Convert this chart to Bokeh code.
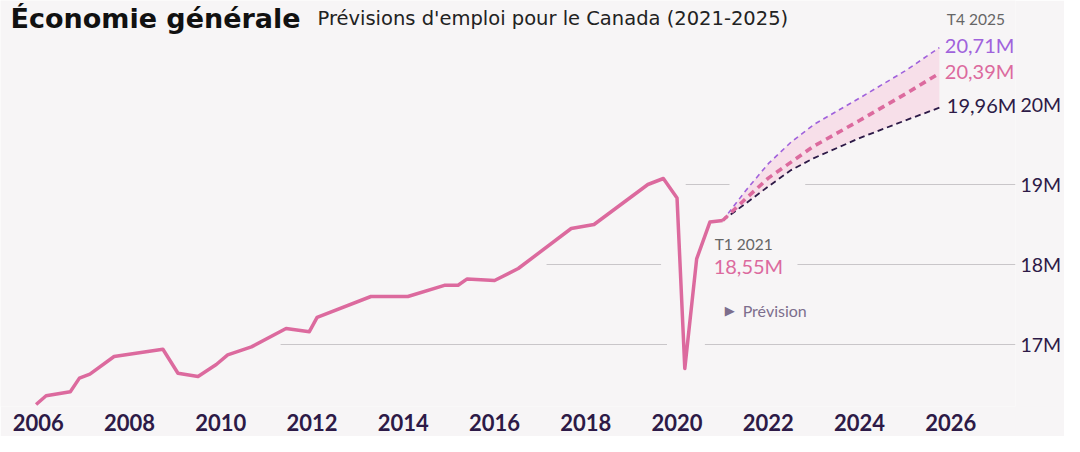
import numpy as np
from bokeh.plotting import figure
from bokeh.models import FixedTicker, Label, Range1d
from bokeh.embed import file_html
from bokeh.resources import INLINE

# ---------------- data ----------------
hist_years = [2005.95, 2006.17, 2006.70, 2006.90, 2007.13, 2007.66, 2008.73, 2009.06,
              2009.50, 2009.90, 2010.15, 2010.67, 2011.43, 2011.94, 2012.11, 2013.29,
              2014.10, 2014.90, 2015.20, 2015.40, 2016.00, 2016.52, 2017.68, 2018.18,
              2019.36, 2019.70, 2020.00, 2020.17, 2020.43, 2020.72, 2021.00]
hist_values = [16.25, 16.36, 16.41, 16.58, 16.63, 16.85, 16.94, 16.64,
               16.60, 16.75, 16.87, 16.97, 17.20, 17.16, 17.34, 17.60,
               17.60, 17.74, 17.74, 17.82, 17.80, 17.95, 18.45, 18.50,
               19.00, 19.075, 18.83, 16.70, 18.07, 18.53, 18.55]

fc_years = [2021.0, 2021.5, 2022.0, 2022.5, 2023.0, 2024.0, 2025.0, 2025.75]
fc_high = [18.55, 18.92, 19.26, 19.53, 19.75, 20.08, 20.42, 20.71]
fc_mid = [18.55, 18.82, 19.08, 19.28, 19.48, 19.80, 20.13, 20.39]
fc_low = [18.55, 18.76, 18.975, 19.18, 19.33, 19.58, 19.80, 19.96]

x_ticks = [2006, 2008, 2010, 2012, 2014, 2016, 2018, 2020, 2022, 2024, 2026]
x_tick_labels = ["2006", "2008", "2010", "2012", "2014", "2016", "2018", "2020", "2022", "2024", "2026"]
y_ticks = [17, 18, 19, 20]
y_tick_labels = ["17M", "18M", "19M", "20M"]

title_text = "Économie générale"
subtitle_text = "Prévisions d'emploi pour le Canada (2021-2025)"
start_period = "T1 2021"
start_value = "18,55M"
end_period = "T4 2025"
end_high = "20,71M"
end_mid = "20,39M"
end_low = "19,96M"
forecast_text = "Prévision"

# ---------------- style ----------------
BG = "#f7f5f6"
PINK = "#dc6a9e"
PURPLE = "#a062dc"
DARK = "#2d1a47"
FILL = "#f7dfe9"
GRID = "#c9c6c9"
GREY = "#666666"

X0, X1 = 2005.170, 2027.419
Y0, Y1 = 16.225, 21.3

p = figure(width=1064, height=436, x_range=Range1d(X0, X1), y_range=Range1d(Y0, Y1),
           output_backend="svg", toolbar_location=None, y_axis_location="right",
           min_border_left=0, min_border_right=45, min_border_top=0, min_border_bottom=30,
           background_fill_color=BG, border_fill_color=BG, outline_line_color=None)
p.grid.visible = False

# axes
p.xaxis.ticker = FixedTicker(ticks=x_ticks)
p.xaxis.major_label_overrides = dict(zip(x_ticks, x_tick_labels))
p.yaxis.ticker = FixedTicker(ticks=y_ticks)
p.yaxis.major_label_overrides = dict(zip(y_ticks, y_tick_labels))
for ax in (p.xaxis, p.yaxis):
    ax.axis_line_color = None
    ax.major_tick_line_color = None
    ax.minor_tick_line_color = None
    ax.major_tick_out = 0
    ax.major_tick_in = 0
    ax.major_label_text_color = DARK
    ax.major_label_text_font = "Lato"
p.xaxis.major_label_text_font_style = "bold"
p.xaxis.major_label_text_font_size = "22px"
p.xaxis.major_label_text_line_height = 1.0
p.xaxis.major_label_standoff = 7
p.yaxis.major_label_text_font_size = "19.5px"
p.yaxis.major_label_standoff = 5

# gridline segments (broken around the line and labels)
grid_y = [17, 17, 18, 18, 19, 19]
grid_x0 = [2011.31, 2020.61, 2017.14, 2022.64, 2020.19, 2022.81]
grid_x1 = [2019.78, X1, 2019.65, X1, 2021.15, X1]
p.segment(x0=grid_x0, y0=grid_y, x1=grid_x1, y1=grid_y, line_color=GRID, line_width=1)

# forecast band and lines
p.varea(x=fc_years, y1=fc_low, y2=fc_high, fill_color=FILL)
p.line(fc_years, fc_low, line_color=DARK, line_width=1.8, line_dash="6 4")
p.line(fc_years, fc_high, line_color=PURPLE, line_width=1.6, line_dash="5 4")
p.line(fc_years, fc_mid, line_color=PINK, line_width=3.6, line_dash="7 5")

# history
p.line(hist_years, hist_values, line_color=PINK, line_width=3.5, line_join="round")

# ---------------- texts ----------------
def lab(x, y, text, xo, yo, size, color, font="Lato", style="normal", baseline="middle"):
    p.add_layout(Label(x=x, y=y, text=text, x_offset=xo, y_offset=yo,
                       text_font=font, text_font_size=size, text_color=color,
                       text_font_style=style, text_align="left", text_baseline=baseline))

lab(X0, Y1, title_text, 10, -17.5, "27px", "#111111", font="DejaVu Sans", style="bold",
    baseline="alphabetic")
lab(X0, Y1, subtitle_text, 317, -17.5, "19.5px", "#222222", font="DejaVu Sans",
    baseline="alphabetic")

sx, sy = hist_years[-1], hist_values[-1]
lab(sx, sy, start_period, -8, -23, "15.5px", GREY)
lab(sx, sy, start_value, -9, -45, "20px", PINK)
lab(sx, sy, "\u25b6", 2, -90, "13px", "#7d6e8d", font="DejaVu Sans")
lab(sx, sy, forecast_text, 20, -90, "16px", "#7d6e8d")

ex = fc_years[-1]
lab(ex, fc_high[-1], end_period, 7.5, 29, "15.5px", GREY)
lab(ex, fc_high[-1], end_high, 5.5, 2.7, "20px", PURPLE)
lab(ex, fc_mid[-1], end_mid, 5.5, 2.3, "20px", PINK)
lab(ex, fc_low[-1], end_low, 7.5, 3.2, "20px", DARK)

open("out.html", "w").write(file_html(p, INLINE))
